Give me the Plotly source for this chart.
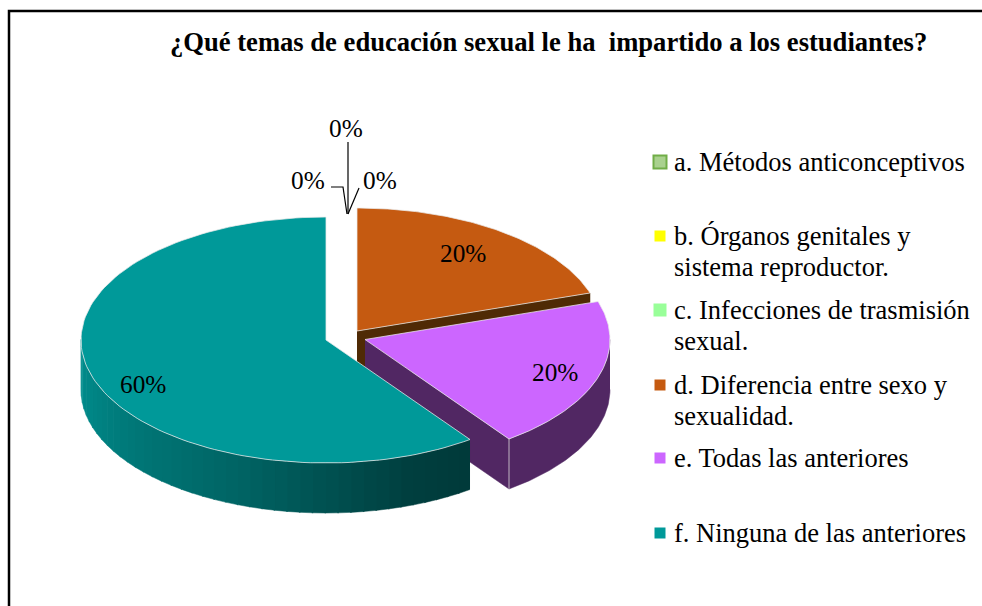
import math
import plotly.graph_objects as go

categories = ["a. Métodos anticonceptivos",
              "b. Órganos genitales y\nsistema reproductor.",
              "c. Infecciones de trasmisión\nsexual.",
              "d. Diferencia entre sexo y\nsexualidad.",
              "e. Todas las anteriores",
              "f. Ninguna de las anteriores"]
values = [0, 0, 0, 20, 20, 60]
tick_labels = [f"{v}%" for v in values]
title = "¿Qué temas de educación sexual le ha  impartido a los estudiantes?"

# ---- styling / layout -------------------------------------------------
W, H = 982, 606
FONT = "Liberation Serif"
colors = ["#a9d18e", "#ffff00", "#99ff99", "#c55a11", "#cc66ff", "#009999"]
wall_colors = ["#a9d18e", "#ffff00", "#99ff99", "#4f2a05", "#512763", "#009999"]
centers = [(348, 335), (348, 335), (348, 335), (357, 331), (365, 339.5), (326, 340)]
RX, RY, DEPTH = 245, 123, 50
label_pos = [(346, 128), (308, 180), (380, 180), (463, 253), (555, 372), (143, 384)]
legend_y = [162, 236, 310, 385, 458, 533]
LINE_STEP = 30.5
legend_sizes = [13, 11, 13, 11, 11, 11]
legend_x = [660, 660, 660, 660, 660, 660]

fig = go.Figure()


def pt(c, deg, dz=0):
    t = math.radians(deg)
    return c[0] + RX * math.sin(t), c[1] - RY * math.cos(t) + dz


def poly(xs, ys, fill, line=None, lw=0):
    fig.add_trace(go.Scatter(x=xs, y=ys, mode="lines", fill="toself", fillcolor=fill,
                             line=dict(color=line or fill, width=lw if line else 0.5),
                             hoverinfo="skip", showlegend=False))


def arc(c, a0, a1, dz=0, n=90):
    p = [pt(c, a0 + (a1 - a0) * i / n, dz) for i in range(n + 1)]
    return [q[0] for q in p], [q[1] for q in p]


def lerp_hex(stops, f):
    for (f0, c0), (f1, c1) in zip(stops, stops[1:]):
        if f <= f1:
            k = (f - f0) / (f1 - f0)
            return "rgb(" + ",".join(str(round(a + (b - a) * k)) for a, b in zip(c0, c1)) + ")"
    return "rgb(" + ",".join(map(str, stops[-1][1])) + ")"


# slice angles from the values (clockwise from the top)
total = sum(values)
angles, acc = [], 0
for v in values:
    angles.append((acc * 360 / total, (acc + v) * 360 / total))
    acc += v

teal_stops = [(0, (0, 58, 58)), (0.12, (0, 62, 62)), (0.45, (0, 100, 100)),
              (0.8, (0, 128, 128)), (1, (0, 144, 144))]

for i in (3, 4, 5):
    c, (a0, a1) = centers[i], angles[i]
    # cut face at the slice's end
    ex, ey = pt(c, a1)
    if i < 5:
        poly([c[0], ex, ex, c[0]], [c[1], ey, ey + DEPTH, c[1] + DEPTH], wall_colors[i])
    # outer wall
    w0, w1 = max(a0, 90), min(a1, 270)
    if i == 5:
        steps = 42
        for s in range(steps):
            b0 = w0 + (w1 - w0) * s / steps
            b1 = w0 + (w1 - w0) * (s + 1) / steps + 0.3
            tx, ty = arc(c, b0, b1, 0, 4)
            bx, by = arc(c, b1, b0, DEPTH, 4)
            poly(tx + bx, ty + by, lerp_hex(teal_stops, (s + 0.5) / steps))
    elif w1 > w0:
        tx, ty = arc(c, w0, w1)
        bx, by = arc(c, w1, w0, DEPTH)
        poly(tx + bx, ty + by, wall_colors[i])
    # top face
    ax, ay = arc(c, a0, a1, 0, 120)
    poly([c[0]] + ax + [c[0]], [c[1]] + ay + [c[1]], colors[i], "rgba(235,235,235,0.75)", 1)
    if i == 4:
        fig.add_trace(go.Scatter(x=[ex, ex], y=[ey, ey + DEPTH], mode="lines",
                                 line=dict(color="rgba(220,220,220,0.8)", width=1),
                                 hoverinfo="skip", showlegend=False))

# leader lines of the zero-valued labels
for lx, ly in [([348, 348], [142, 214]),
               ([331, 343, 347], [187, 187, 214]),
               ([359, 348], [188, 214])]:
    fig.add_trace(go.Scatter(x=lx, y=ly, mode="lines", line=dict(color="black", width=1.2),
                             hoverinfo="skip", showlegend=False))

annotations = []


def text(x, y, s, size, anchor="center", bold=False):
    annotations.append(dict(x=x, y=y, xref="x", yref="y", text=f"<b>{s}</b>" if bold else s,
                            showarrow=False, xanchor=anchor, yanchor="middle",
                            font=dict(family=FONT, size=size, color="black")))


for (x, y), s in zip(label_pos, tick_labels):
    text(x, y, s, 25.3)

text(548, 42, title, 26.6, bold=True)

# legend
for i, name in enumerate(categories):
    border = "#70ad47" if i == 0 else colors[i]
    fig.add_trace(go.Scatter(x=[legend_x[i]], y=[legend_y[i]], mode="markers",
                             marker=dict(symbol="square", size=legend_sizes[i], color=colors[i],
                                         line=dict(color=border, width=2 if i == 0 else 0)),
                             hoverinfo="skip", showlegend=False))
    for j, line in enumerate(name.split("\n")):
        text(672, legend_y[i] + j * LINE_STEP, line, 26.5, anchor="left")

fig.update_layout(
    width=W, height=H, margin=dict(l=0, r=0, t=0, b=0),
    paper_bgcolor="white", plot_bgcolor="white", annotations=annotations,
    xaxis=dict(range=[0, W], visible=False, fixedrange=True),
    yaxis=dict(range=[H, 0], visible=False, fixedrange=True),
    shapes=[dict(type="path", path=f"M 9 {H+5} L 9 11 L {W+5} 11", xref="x", yref="y",
                 line=dict(color="black", width=2.5))],
)
fig.write_html("out.html", config={"displayModeBar": False},
               post_script="document.body.style.margin='0';document.body.style.overflow='hidden';")
